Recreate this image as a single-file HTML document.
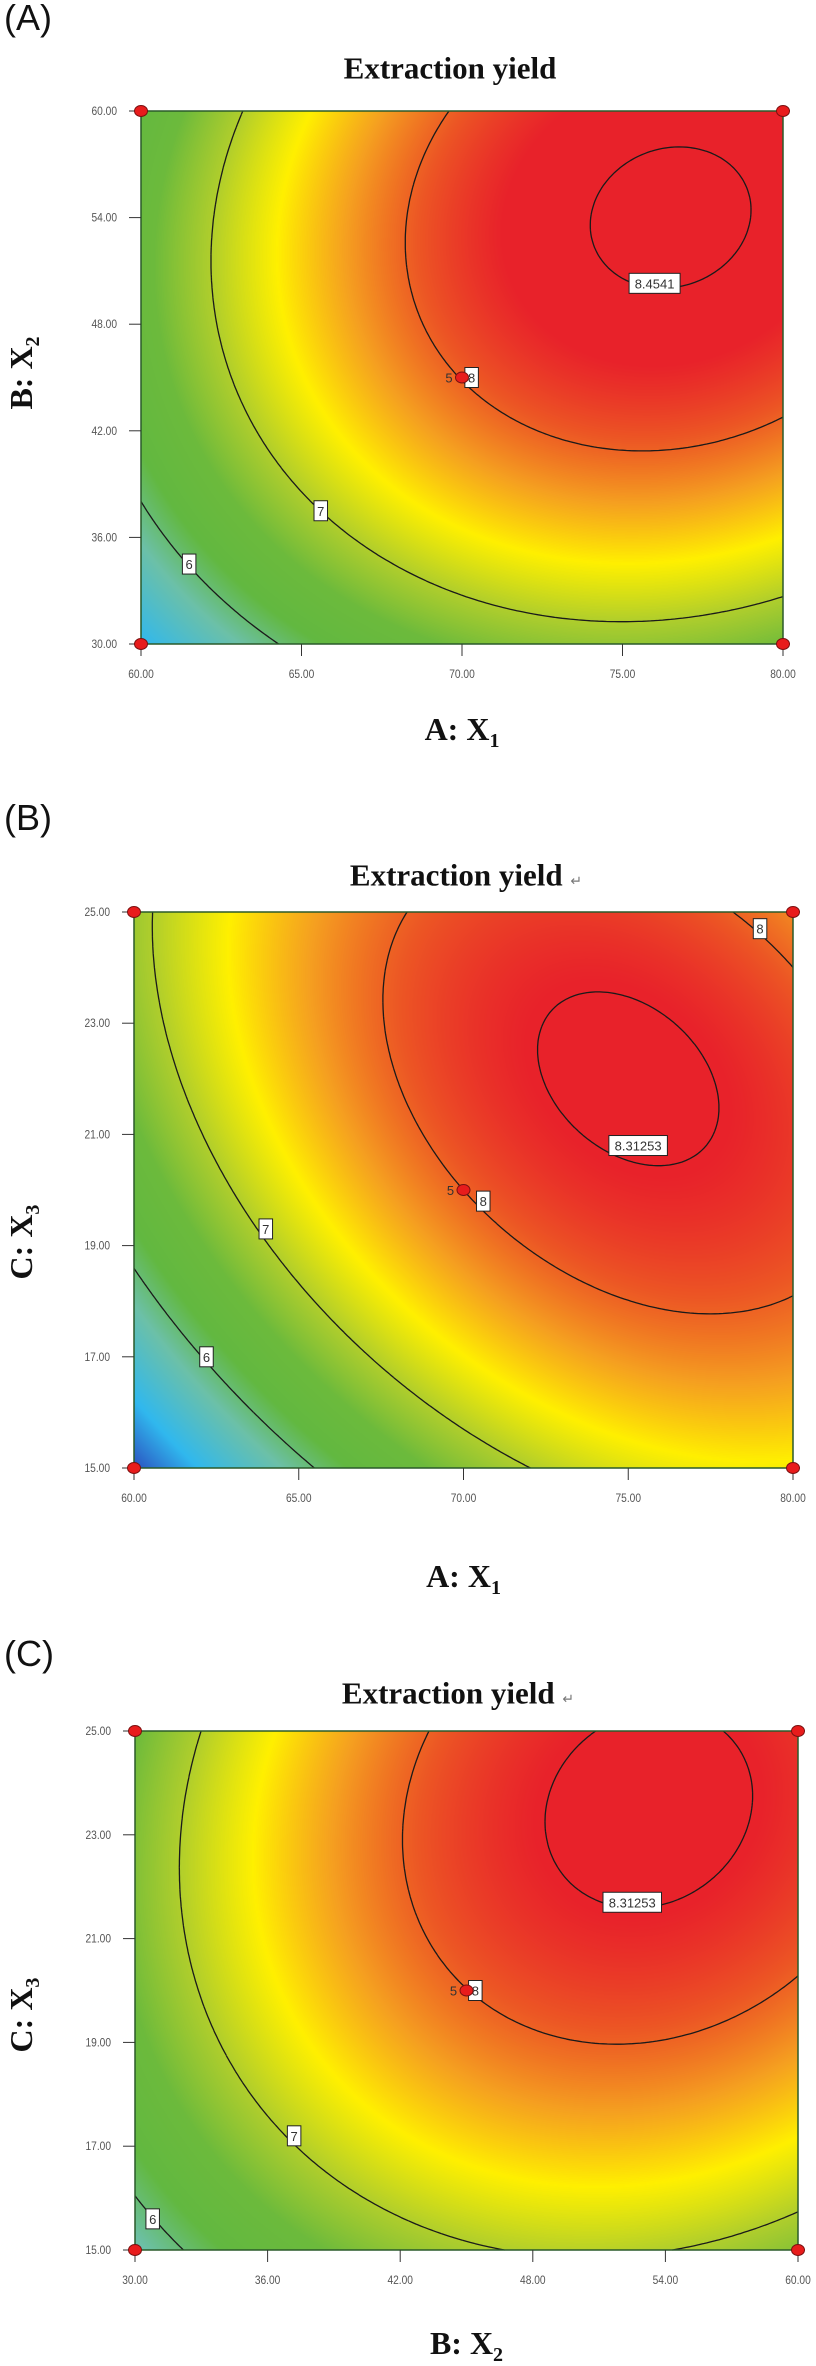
<!DOCTYPE html>
<html><head><meta charset="utf-8">
<style>
html,body{margin:0;padding:0;background:#fff;}
body{width:816px;height:2365px;position:relative;overflow:hidden;font-family:"Liberation Sans",sans-serif;}
.abs{position:absolute;}
.panel-letter{font-family:"Liberation Sans",sans-serif;font-size:36px;color:#111;line-height:1;}
.title{font-family:"Liberation Serif",serif;font-weight:bold;font-size:31px;color:#111;white-space:nowrap;transform:translate(-50%,-50%);line-height:1;}
.axt{font-family:"Liberation Serif",serif;font-weight:bold;font-size:32px;color:#111;white-space:nowrap;line-height:1;}
canvas{position:absolute;}
svg{position:absolute;left:0;top:0;overflow:visible;}
</style></head>
<body>
<script>
// ---- data ----
const panelNames = ["A", "B", "C"];
const xTicksA = [60, 65, 70, 75, 80];
const yTicksA = [30, 36, 42, 48, 54, 60];
const xTicksB = [60, 65, 70, 75, 80];
const yTicksB = [15, 17, 19, 21, 23, 25];
const xTicksC = [30, 36, 42, 48, 54, 60];
const yTicksC = [15, 17, 19, 21, 23, 25];
// quadratic response model in coded units: [max, u0, v0, a, b, c]  f = M - a du^2 - b dv^2 - c du dv
const modelA = [8.50, 0.65, 0.60, 0.74, 0.66, -0.15];
const modelB = [8.362, 0.50, 0.40, 0.735, 0.57, 0.433];
const modelC = [8.38, 0.55, 0.70, 0.70, 0.47, -0.15];
const levelsA = [6, 7, 8, 8.4541];
const levelsB = [6, 7, 8, 8.31253];
const levelsC = [6, 7, 8, 8.31253];
// contour label text and positions (actual units)
const labelTextA = ["6", "7", "8", "8.4541"];
const labelXA = [61.5, 65.6, 70.3, 76.0];
const labelYA = [34.5, 37.5, 45.0, 50.3];
const labelTextB = ["6", "7", "8", "8.31253", "8"];
const labelXB = [62.2, 64.0, 70.6, 75.3, 79.0];
const labelYB = [17.0, 19.3, 19.8, 20.8, 24.7];
const labelTextC = ["6", "7", "8", "8.31253"];
const labelXC = [30.8, 37.2, 45.4, 52.5];
const labelYC = [15.6, 17.2, 20.0, 21.7];
// design points (actual units)
const designXA = [60, 80, 60, 80, 70];
const designYA = [30, 30, 60, 60, 45];
const designXB = [60, 80, 60, 80, 70];
const designYB = [15, 15, 25, 25, 20];
const designXC = [30, 60, 30, 60, 45];
const designYC = [15, 15, 25, 25, 20];
// color map stops (value -> color)
const cmapValues = [4.6, 5.2, 5.8, 6.2, 6.6, 7.0, 7.4, 7.75, 8.05, 8.3];
const cmapColors = ["#2a40b8", "#30b8ee", "#6cc0a8", "#62b840", "#6cba3c", "#b0ce2c", "#fff000", "#f5a020", "#ec5624", "#e8222a"];
</script>
<script>
const panels = [
  {id:"A", L:141, T:111, R:783, B:644, xt:xTicksA, yt:yTicksA, model:modelA, levels:levelsA,
   lt:labelTextA, lx:labelXA, ly:labelYA, dx:designXA, dy:designYA,
   letterY:0, titleX:450, titleY:68, ret:false, xTitle:["A: X","1"], yTitle:["B: X","2"], xTitleY:732, yTitleY:373},
  {id:"B", L:134, T:912, R:793, B:1468, xt:xTicksB, yt:yTicksB, model:modelB, levels:levelsB,
   lt:labelTextB, lx:labelXB, ly:labelYB, dx:designXB, dy:designYB,
   letterY:800, titleX:466, titleY:875, ret:true, xTitle:["A: X","1"], yTitle:["C: X","3"], xTitleY:1579, yTitleY:1242},
  {id:"C", L:135, T:1731, R:798, B:2250, xt:xTicksC, yt:yTicksC, model:modelC, levels:levelsC,
   lt:labelTextC, lx:labelXC, ly:labelYC, dx:designXC, dy:designYC,
   letterY:1636, titleX:458, titleY:1693, ret:true, xTitle:["B: X","2"], yTitle:["C: X","3"], xTitleY:2346, yTitleY:2015}
];
function hex(c){return [parseInt(c.slice(1,3),16),parseInt(c.slice(3,5),16),parseInt(c.slice(5,7),16)];}
const cm = cmapColors.map(hex);
function colorFor(v){
  if(v<=cmapValues[0]) return cm[0];
  for(let i=1;i<cmapValues.length;i++){
    if(v<=cmapValues[i]){const t=(v-cmapValues[i-1])/(cmapValues[i]-cmapValues[i-1]);
      return [0,1,2].map(k=>cm[i-1][k]+(cm[i][k]-cm[i-1][k])*t);}
  }
  return cm[cm.length-1];
}
function evalModel(m,u,v){const du=u-m[1],dv=v-m[2];return m[0]-m[3]*du*du-m[4]*dv*dv-m[5]*du*dv;}
const SVGNS="http://www.w3.org/2000/svg";
const svg=document.createElementNS(SVGNS,"svg");
svg.setAttribute("width","816");svg.setAttribute("height","2365");


function mk(tag,attrs,parent){const e=document.createElementNS(SVGNS,tag);for(const k in attrs)e.setAttribute(k,attrs[k]);(parent||svg).appendChild(e);return e;}

panels.forEach(p=>{
  const W=p.R-p.L,H=p.B-p.T;
  const x0=p.xt[0],x1=p.xt[p.xt.length-1],y0=p.yt[0],y1=p.yt[p.yt.length-1];
  const sx=x=>p.L+(x-x0)/(x1-x0)*W;
  const sy=y=>p.B-(y-y0)/(y1-y0)*H;
  const lt=document.createElement("div");lt.className="abs panel-letter";lt.textContent="("+p.id+")";
  lt.style.left="4px";lt.style.top=p.letterY+"px";
  
  
  document.body.appendChild(lt);
  const t=document.createElement("div");t.className="abs title";
  t.innerHTML="Extraction yield"+(p.ret?' <span style="font-size:14px;font-weight:normal;color:#777">↵</span>':"");
  t.style.left=p.titleX+"px";t.style.top=p.titleY+"px";
  
  
  document.body.appendChild(t);
  const cv=document.createElement("canvas");cv.width=W;cv.height=H;
  cv.style.left=p.L+"px";cv.style.top=p.T+"px";
  
  
  document.body.appendChild(cv);
  const ctx=cv.getContext("2d");const img=ctx.createImageData(W,H);
  for(let j=0;j<H;j++){const v=1-2*(j+0.5)/H;
    for(let i=0;i<W;i++){const u=2*(i+0.5)/W-1;const c=colorFor(evalModel(p.model,u,v));
      const o=(j*W+i)*4;img.data[o]=c[0];img.data[o+1]=c[1];img.data[o+2]=c[2];img.data[o+3]=255;}}
  ctx.putImageData(img,0,0);
  const g=mk("g",{});
  
  
  const N=160;
  p.levels.forEach((lev,li)=>{
    let d="";
    const val=(i,j)=>evalModel(p.model,-1+2*i/N,-1+2*j/N);
    for(let i=0;i<N;i++){for(let j=0;j<N;j++){
      const c=[[i,j],[i+1,j],[i+1,j+1],[i,j+1]];
      const f=c.map(q=>val(q[0],q[1]));
      const pts=[];
      for(let k=0;k<4;k++){const a=f[k],b=f[(k+1)%4];
        if((a<lev)!==(b<lev)){const tt=(lev-a)/(b-a);const A=c[k],B=c[(k+1)%4];
          const ui=A[0]+(B[0]-A[0])*tt,vj=A[1]+(B[1]-A[1])*tt;
          pts.push([p.L+ui/N*W,p.B-vj/N*H]);}}
      if(pts.length>=2){d+="M"+pts[0][0].toFixed(1)+","+pts[0][1].toFixed(1)+"L"+pts[1][0].toFixed(1)+","+pts[1][1].toFixed(1);}
      if(pts.length===4){d+="M"+pts[2][0].toFixed(1)+","+pts[2][1].toFixed(1)+"L"+pts[3][0].toFixed(1)+","+pts[3][1].toFixed(1);}
    }}
    const path=mk("path",{d:d,stroke:"#1a1a1a","stroke-width":"1.3",fill:"none"},g);
    
    
  });
  const fr=mk("rect",{x:p.L,y:p.T,width:W,height:H,fill:"none",stroke:"#2a5a2a","stroke-width":"1.5"},g);
  
  
  p.xt.forEach(v=>{
    const x=sx(v);
    const tl=mk("line",{x1:x,y1:p.B,x2:x,y2:p.B+12,stroke:"#333","stroke-width":"1"},g);
    
    
    const tx=mk("text",{x:x,y:p.B+34,"text-anchor":"middle","font-size":"12","fill":"#555","font-family":"Liberation Sans, sans-serif",transform:"translate("+x+",0) scale(0.85,1) translate("+(-x)+",0)"},g);
    tx.textContent=v.toFixed(2);
    
    
  });
  p.yt.forEach(v=>{
    const y=sy(v);
    const tl=mk("line",{x1:p.L-12,y1:y,x2:p.L,y2:y,stroke:"#333","stroke-width":"1"},g);
    
    
    const xr=p.L-24;
    const tx=mk("text",{x:xr,y:y+4,"text-anchor":"end","font-size":"12","fill":"#555","font-family":"Liberation Sans, sans-serif",transform:"translate("+xr+",0) scale(0.85,1) translate("+(-xr)+",0)"},g);
    tx.textContent=v.toFixed(2);
    
    
  });
  p.lt.forEach((s,k)=>{
    const x=sx(p.lx[k]),y=sy(p.ly[k]);const w=s.length*7.5+6;
    const r=mk("rect",{x:x-w/2,y:y-10,width:w,height:20,fill:"#fff",stroke:"#222","stroke-width":"1"},g);
    
    
    const tx=mk("text",{x:x,y:y+5,"text-anchor":"middle","font-size":"13","fill":"#333","font-family":"Liberation Sans, sans-serif"},g);
    tx.textContent=s;
    
    
  });
  p.dx.forEach((xv,k)=>{
    const x=sx(xv),y=sy(p.dy[k]);
    const e=mk("ellipse",{cx:x,cy:y,rx:6.5,ry:5.5,fill:"#e81c1c",stroke:"#7a1010","stroke-width":"1"},g);
    
    
    if(k===p.dx.length-1){
      const tx=mk("text",{x:x-13,y:y+5,"text-anchor":"middle","font-size":"13","fill":"#333","font-family":"Liberation Sans, sans-serif"},g);
      tx.textContent="5";
      
      
    }
  });
  const xt=document.createElement("div");xt.className="abs axt";
  xt.innerHTML=p.xTitle[0]+'<sub style="font-size:20px">'+p.xTitle[1]+'</sub>';
  xt.style.left=((p.L+p.R)/2)+"px";xt.style.top=p.xTitleY+"px";xt.style.transform="translate(-50%,-50%)";
  
  
  document.body.appendChild(xt);
  const yt=document.createElement("div");yt.className="abs axt";
  yt.innerHTML=p.yTitle[0]+'<sub style="font-size:20px">'+p.yTitle[1]+'</sub>';
  yt.style.left="24px";yt.style.top=p.yTitleY+"px";yt.style.transform="translate(-50%,-50%) rotate(-90deg)";
  
  
  document.body.appendChild(yt);
});
document.body.appendChild(svg);
</script>
</body></html>
